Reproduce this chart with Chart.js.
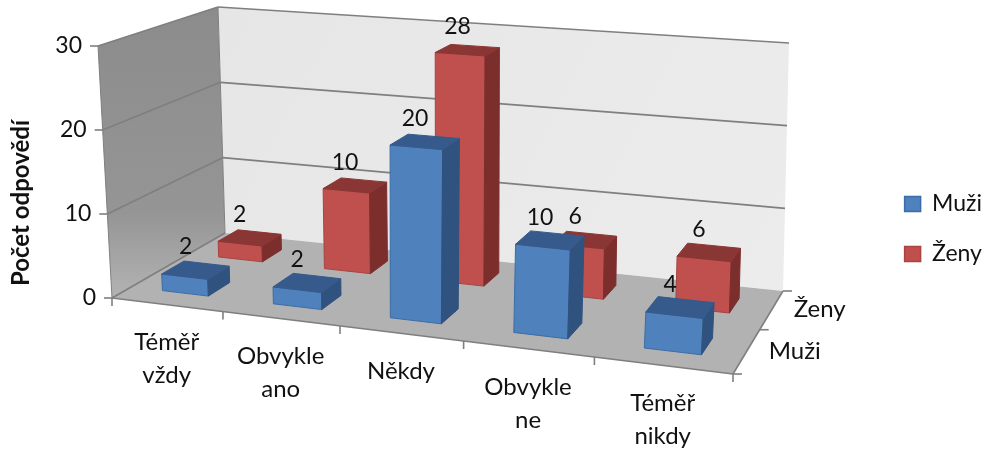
<!DOCTYPE html>
<html lang="cs">
<head>
<meta charset="utf-8">
<title>Počet odpovědí</title>
<script src="https://cdn.jsdelivr.net/npm/chart.js@4"></script>
<style>
  html, body { margin: 0; background: #fff; }
  canvas { display: block; }
</style>
</head>
<body>
<canvas id="chart" width="984" height="452"></canvas>
<script>
'use strict';

const categories = [['Téměř', 'vždy'], ['Obvykle', 'ano'], ['Někdy'], ['Obvykle', 'ne'], ['Téměř', 'nikdy']];
const seriesNames = ['Muži', 'Ženy'];
const muzi = [2, 2, 20, 10, 4];
const zeny = [2, 10, 28, 6, 6];
const yTicks = [0, 10, 20, 30];
const yTitle = 'Počet odpovědí';

// box of the 3D plot: corners of floor and ceiling, front-left first, going round
const FLOOR = [[112, 298], [733, 374], [783, 291], [225, 233]];
const CEIL = [[98, 46], [750, 94], [789, 43], [218, 7]];

const FONT = 'Lato, sans-serif';
const TEXT = '#111';
const GRID = '#7f7f7f';
const FACES = [
  { front: '#4f81bd', edge: '#3b6ca8', side: '#30527e', top: '#355a8b' },
  { front: '#c0504d', edge: '#a84441', side: '#7c2e2d', top: '#8a3635' }
];
const LANE_DEPTH = 0.19; // depth of a bar, 1 = whole floor

function homography(p) {
  const [[x0, y0], [x1, y1], [x2, y2], [x3, y3]] = p;
  const dx1 = x1 - x2, dx2 = x3 - x2, sx = x0 - x1 + x2 - x3;
  const dy1 = y1 - y2, dy2 = y3 - y2, sy = y0 - y1 + y2 - y3;
  const det = dx1 * dy2 - dx2 * dy1;
  const g = (sx * dy2 - dx2 * sy) / det;
  const h = (dx1 * sy - sx * dy1) / det;
  const a = x1 - x0 + g * x1, b = x3 - x0 + h * x3;
  const d = y1 - y0 + g * y1, e = y3 - y0 + h * y3;
  return (u, w) => {
    const q = g * u + h * w + 1;
    return [(a * u + b * w + x0) / q, (d * u + e * w + y0) / q];
  };
}

const floorAt = homography(FLOOR);
const ceilAt = homography(CEIL);

// u along categories, v up the value axis, w into the depth
function project(u, v, w) {
  const f = floorAt(u, w), c = ceilAt(u, w);
  return [f[0] + (c[0] - f[0]) * v, f[1] + (c[1] - f[1]) * v];
}

function poly(ctx, pts, fill, stroke) {
  ctx.beginPath();
  pts.forEach((p, i) => i ? ctx.lineTo(p[0], p[1]) : ctx.moveTo(p[0], p[1]));
  ctx.closePath();
  if (fill) { ctx.fillStyle = fill; ctx.fill(); }
  if (stroke) { ctx.strokeStyle = stroke; ctx.stroke(); }
}

function line(ctx, a, b) {
  ctx.beginPath();
  ctx.moveTo(a[0], a[1]);
  ctx.lineTo(b[0], b[1]);
  ctx.stroke();
}

function drawWalls(chart) {
  const ctx = chart.ctx;
  const y = chart.scales.y;
  const area = chart.chartArea;
  const vOf = val => (area.bottom - y.getPixelForValue(val)) / area.height;

  const leftFill = ctx.createLinearGradient(0, 10, 0, 300);
  leftFill.addColorStop(0, '#8c8c8c');
  leftFill.addColorStop(0.7, '#959595');
  leftFill.addColorStop(1, '#b4b4b4');
  const backFill = ctx.createLinearGradient(220, 0, 780, 290);
  backFill.addColorStop(0, '#e6e6e6');
  backFill.addColorStop(1, '#ececec');

  poly(ctx, [project(0, 0, 0), project(0, 1, 0), project(0, 1, 1), project(0, 0, 1)], leftFill);
  poly(ctx, [project(0, 0, 1), project(0, 1, 1), project(1, 1, 1), project(1, 0, 1)], backFill);
  poly(ctx, [project(0, 0, 0), project(1, 0, 0), project(1, 0, 1), project(0, 0, 1)], '#b2b2b2');

  ctx.strokeStyle = GRID;
  ctx.lineWidth = 1.6;
  y.ticks.forEach(t => {
    const v = vOf(t.value);
    const front = project(0, v, 0);
    const corner = project(0, v, 1);
    line(ctx, [front[0] - 8, front[1]], front);
    line(ctx, front, corner);
    if (t.value > 0) line(ctx, corner, project(1, v, 1));
  });
  ctx.lineWidth = 1;
  line(ctx, project(0, 0, 0), project(0, 1, 0));
  line(ctx, project(0, 0, 1), project(0, 1, 1));

  // floor edges with their ticks
  ctx.lineWidth = 1.6;
  line(ctx, project(0, 0, 0), project(1, 0, 0));
  line(ctx, project(1, 0, 0), project(1, 0, 1));
  const x = chart.scales.x;
  categories.concat([null]).forEach((c, i) => {
    const u = (x.getPixelForValue(i - 0.5) - area.left) / area.width;
    const p = project(u, 0, 0);
    line(ctx, p, [p[0], p[1] + 8]);
  });
  [0, 0.5, 1].forEach(w => {
    const p = project(1, 0, w);
    line(ctx, p, [p[0] + 9, p[1]]);
  });
}

function drawAxisText(chart) {
  const ctx = chart.ctx;
  const { x, y } = chart.scales;
  const area = chart.chartArea;
  ctx.fillStyle = TEXT;
  ctx.textBaseline = 'middle';

  ctx.font = '23px ' + FONT;
  ctx.textAlign = 'right';
  y.ticks.forEach(t => {
    const p = project(0, (area.bottom - y.getPixelForValue(t.value)) / area.height, 0);
    ctx.fillText(String(t.value), p[0] - 16, p[1]);
  });

  ctx.font = '24px ' + FONT;
  ctx.textAlign = 'center';
  categories.forEach((lines, i) => {
    const u = (x.getPixelForValue(i) - area.left) / area.width;
    const p = project(u, 0, 0);
    lines.forEach((txt, n) => ctx.fillText(txt, p[0], p[1] + 38 + n * 33));
  });

  ctx.textAlign = 'left';
  seriesNames.forEach((name, i) => {
    const p = project(1, 0, (i + 0.5) / 2);
    ctx.fillText(name, p[0] + 22, p[1]);
  });

  ctx.save();
  ctx.translate(21, 203);
  ctx.rotate(-Math.PI / 2);
  ctx.textAlign = 'center';
  ctx.font = 'bold 24px ' + FONT;
  ctx.fillText(yTitle, 0, 0);
  ctx.restore();
}

function drawBars(chart) {
  const ctx = chart.ctx;
  const area = chart.chartArea;
  const toU = px => (px - area.left) / area.width;
  const toV = py => (area.bottom - py) / area.height;
  const labels = [];

  // back lane first so the front lane overlaps it
  for (let ds = chart.data.datasets.length - 1; ds >= 0; ds--) {
    const face = FACES[ds];
    const w0 = (ds + 0.5) / 2 - LANE_DEPTH / 2;
    const w1 = w0 + LANE_DEPTH;
    chart.getDatasetMeta(ds).data.forEach((bar, i) => {
      const u0 = toU(bar.x - bar.width / 2);
      const u1 = toU(bar.x + bar.width / 2);
      const top = toV(bar.y);
      const base = toV(bar.base);
      ctx.lineWidth = 1;
      poly(ctx, [project(u0, top, w0), project(u1, top, w0), project(u1, base, w0), project(u0, base, w0)], face.front, face.edge);
      poly(ctx, [project(u1, top, w0), project(u1, top, w1), project(u1, base, w1), project(u1, base, w0)], face.side, face.side);
      poly(ctx, [project(u0, top, w0), project(u0, top, w1), project(u1, top, w1), project(u1, top, w0)], face.top, face.top);
      labels.push({ value: chart.data.datasets[ds].data[i], at: project((u0 + u1) / 2, top, (w0 + w1) / 2) });
    });
  }

  ctx.fillStyle = TEXT;
  ctx.font = '23px ' + FONT;
  ctx.textAlign = 'center';
  ctx.textBaseline = 'middle';
  labels.forEach(l => ctx.fillText(String(l.value), l.at[0] - 10, l.at[1] - 23));
}

// bars are kept by the scales, but painted in perspective from here
const perspective = {
  id: 'perspective',
  beforeDatasetsDraw(chart) { drawWalls(chart); },
  beforeDatasetDraw() { return false; },
  afterDatasetsDraw(chart) {
    drawBars(chart);
    drawAxisText(chart);
  }
};

new Chart(document.getElementById('chart'), {
  type: 'bar',
  plugins: [perspective],
  data: {
    labels: categories,
    datasets: [
      { label: seriesNames[0], data: muzi, backgroundColor: FACES[0].front, borderColor: FACES[0].edge, borderWidth: 1.5 },
      { label: seriesNames[1], data: zeny, backgroundColor: FACES[1].front, borderColor: FACES[1].edge, borderWidth: 1.5 }
    ]
  },
  options: {
    responsive: false,
    animation: false,
    events: [],
    layout: { padding: { right: -8, top: 6 } },
    datasets: { bar: { grouped: false, barPercentage: 0.42, categoryPercentage: 1 } },
    scales: {
      x: { display: false },
      y: { display: false, min: yTicks[0], max: yTicks[yTicks.length - 1], ticks: { stepSize: 10 } }
    },
    plugins: {
      tooltip: { enabled: false },
      legend: {
        position: 'right',
        labels: { boxWidth: 16, boxHeight: 15, padding: 27, color: TEXT, font: { family: FONT, size: 23 } }
      }
    }
  }
});
</script>
</body>
</html>
